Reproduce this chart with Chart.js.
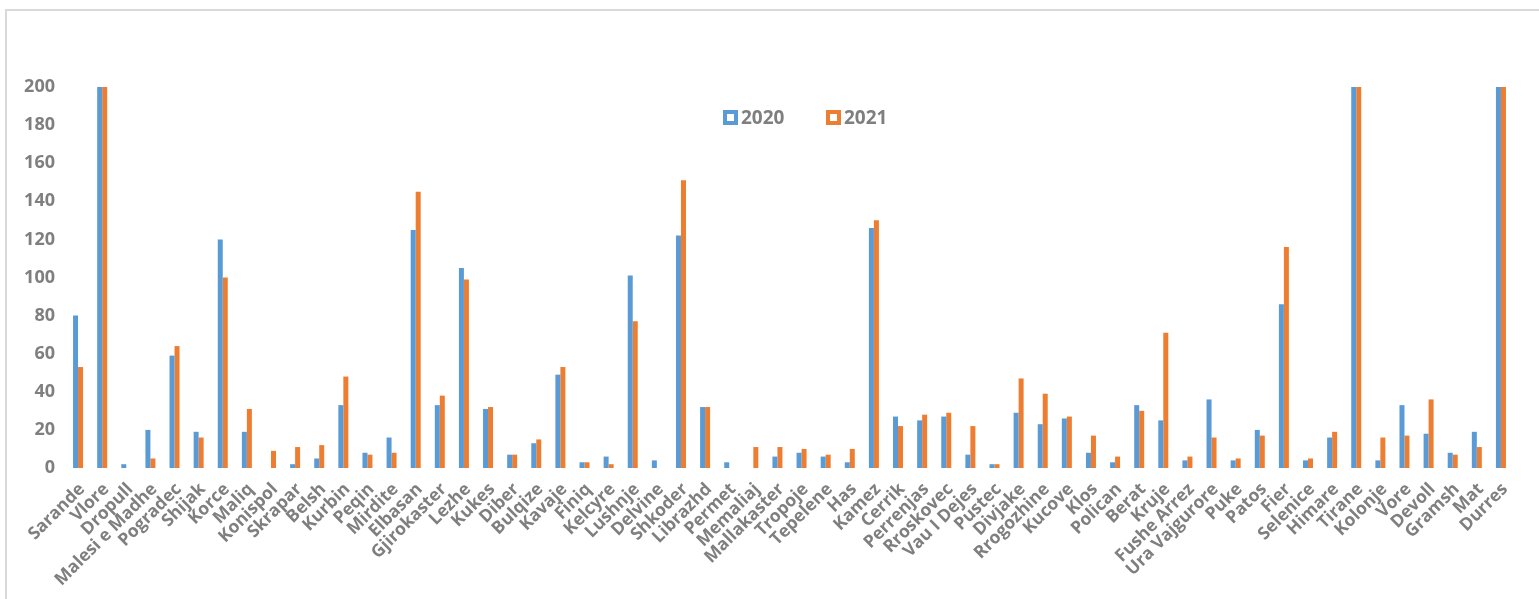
<!DOCTYPE html>
<html>
<head>
<meta charset="utf-8">
<script src="https://cdn.jsdelivr.net/npm/chart.js@4"></script>
<style>
  html, body { margin: 0; padding: 0; background: #ffffff; }
  #wrap { position: relative; width: 1539px; height: 599px; overflow: hidden; }
  #frame { position: absolute; left: 5px; top: 9px; width: 1540px; height: 600px;
           border-top: 2px solid #d9d9d9; border-left: 2px solid #d9d9d9; box-sizing: border-box; }
  #chart { position: absolute; left: 0; top: 0; }
  .leg { position: absolute; top: 104px; display: flex; align-items: center;
         font-family: "Open Sans", sans-serif; font-weight: bold; font-size: 19px; color: #7f7f7f; }
  .leg .box { width: 15px; height: 15px; box-sizing: border-box; border: 4px solid; background: #fff; margin-right: 3px; }
</style>
</head>
<body>
<div id="wrap">
  <div id="frame"></div>
  <canvas id="chart" width="1539" height="599"></canvas>
  <div class="leg" id="leg0" style="left:723px;"><span class="box" style="border-color:#5B9BD5"></span><span id="lt0"></span></div>
  <div class="leg" id="leg1" style="left:826px;"><span class="box" style="border-color:#ED7D31"></span><span id="lt1"></span></div>
</div>
<script>
const categories = ["Sarande","Vlore","Dropull","Malesi e Madhe","Pogradec","Shijak","Korce","Maliq","Konispol","Skrapar",
  "Belsh","Kurbin","Peqin","Mirdite","Elbasan","Gjirokaster","Lezhe","Kukes","Diber","Bulqize",
  "Kavaje","Finiq","Kelcyre","Lushnje","Delvine","Shkoder","Librazhd","Permet","Memaliaj","Mallakaster",
  "Tropoje","Tepelene","Has","Kamez","Cerrik","Perrenjas","Rroskovec","Vau I Dejes","Pustec","Divjake",
  "Rrogozhine","Kucove","Klos","Polican","Berat","Kruje","Fushe Arrez","Ura Vajgurore","Puke","Patos",
  "Fier","Selenice","Himare","Tirane","Kolonje","Vore","Devoll","Gramsh","Mat","Durres"];

const series2020 = [80,200,2,20,59,19,120,19,0,2,
  5,33,8,16,125,33,105,31,7,13,
  49,3,6,101,4,122,32,3,0,6,
  8,6,3,126,27,25,27,7,2,29,
  23,26,8,3,33,25,4,36,4,20,
  86,4,16,200,4,33,18,8,19,200];

const series2021 = [53,200,0,5,64,16,100,31,9,11,
  12,48,7,8,145,38,99,32,7,15,
  53,3,2,77,0,151,32,0,11,11,
  10,7,10,130,22,28,29,22,2,47,
  39,27,17,6,30,71,6,16,5,17,
  116,5,19,200,16,17,36,7,11,200];

const seriesNames = ["2020", "2021"];
const yTicks = { min: 0, max: 200, step: 20 };

document.getElementById('lt0').textContent = seriesNames[0];
document.getElementById('lt1').textContent = seriesNames[1];

const tickFont = { family: "'Open Sans', sans-serif", size: 18, weight: 'bold' };
const xTickFont = { family: "'Open Sans', sans-serif", size: 17.5, weight: 'bold' };
const textColor = '#7f7f7f';

new Chart(document.getElementById('chart'), {
  type: 'bar',
  data: {
    labels: categories,
    datasets: [
      { label: seriesNames[0], data: series2020, backgroundColor: '#5B9BD5', barThickness: 5, inflateAmount: 0 },
      { label: seriesNames[1], data: series2021, backgroundColor: '#ED7D31', barThickness: 5, inflateAmount: 0 }
    ]
  },
  options: {
    responsive: false,
    animation: false,
    devicePixelRatio: 1,
    layout: { padding: { left: 0, top: 87, right: 26, bottom: 0 } },
    plugins: { legend: { display: false }, tooltip: { enabled: false } },
    scales: {
      x: {
        grid: { display: false, drawTicks: false },
        border: { display: false },
        ticks: { autoSkip: false, minRotation: 45, maxRotation: 45, font: xTickFont, color: textColor, padding: 11, labelOffset: 4 },
        afterFit: (s) => { s.height = 131; }
      },
      y: {
        min: yTicks.min, max: yTicks.max,
        grid: { display: false, drawTicks: false },
        border: { display: false },
        ticks: { stepSize: yTicks.step, font: tickFont, color: textColor, padding: 11 },
        afterFit: (s) => { s.width = 66; }
      }
    }
  }
});
</script>
</body>
</html>
